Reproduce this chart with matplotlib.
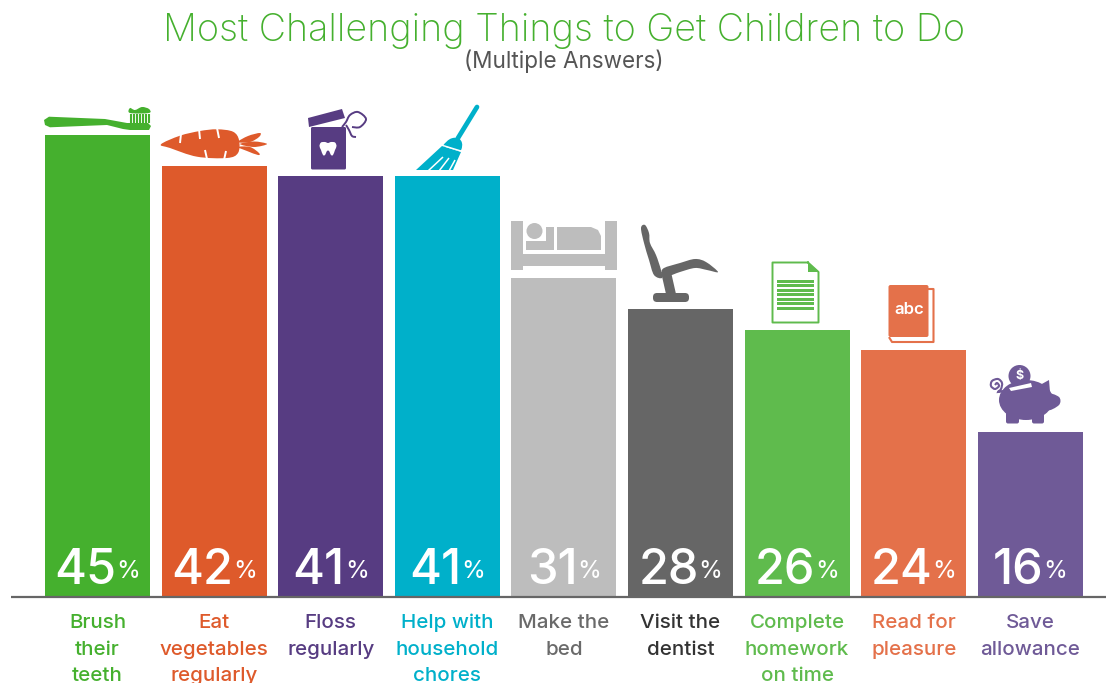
import numpy as np
import matplotlib
matplotlib.use('Agg')
import matplotlib.pyplot as plt
from matplotlib.path import Path
from matplotlib.patches import PathPatch, Polygon, Circle, Ellipse, Rectangle, FancyBboxPatch

plt.rcParams['font.family'] = ['Inter', 'DejaVu Sans']

categories = ['Brush\ntheir\nteeth', 'Eat\nvegetables\nregularly', 'Floss\nregularly',
              'Help with\nhousehold\nchores', 'Make the\nbed', 'Visit the\ndentist',
              'Complete\nhomework\non time', 'Read for\npleasure', 'Save\nallowance']
values = [45, 42, 41, 41, 31, 28, 26, 24, 16]
bar_colors = ['#45B02E', '#DE5A2B', '#573C82', '#00B0CA', '#BDBDBD', '#666666',
              '#5FBB4D', '#E4714A', '#6F5A97']
label_colors = ['#45B02E', '#DE5A2B', '#573C82', '#00B0CA', '#6A6A6A', '#333333',
                '#5FBB4D', '#E4714A', '#6F5A97']

W, H = 1106, 683
fig = plt.figure(figsize=(W / 100, H / 100), dpi=100)

# bars sit on a baseline at y=596.5px, one percent is about 10.26px
ax = fig.add_axes([0, (H - 596.5) / H, 1, 596.5 / H])
ax.set_xlim((0 - 97.5) / 116.6, (W - 97.5) / 116.6)
ax.set_ylim(0, 596.5 / 10.26)
ax.axis('off')
ax.bar(range(len(values)), values, width=0.9, color=bar_colors)

# pixel overlay for title, baseline and icons
px = fig.add_axes([0, 0, 1, 1], zorder=5)
px.set_xlim(0, W)
px.set_ylim(H, 0)
px.axis('off')
px.patch.set_alpha(0)

px.text(564, 31, 'Most Challenging Things to Get Children to Do', color='#45B02E', fontsize=27.2,
        fontweight='light', ha='center', va='center')
px.text(564, 61, '(Multiple Answers)', color='#555555', fontsize=16.2, fontweight='normal',
        ha='center', va='center')
px.plot([11, 1106], [597, 597], color='#666666', lw=1.6, solid_capstyle='butt')


def catmull(points, closed=True):
    p = np.array(points, dtype=float)
    n = len(p)
    verts = [p[0]]
    codes = [Path.MOVETO]
    for i in range(n if closed else n - 1):
        if closed:
            p0, p1, p2, p3 = p[i - 1], p[i], p[(i + 1) % n], p[(i + 2) % n]
        else:
            p0, p1, p2, p3 = p[max(i - 1, 0)], p[i], p[i + 1], p[min(i + 2, n - 1)]
        verts += [p1 + (p2 - p0) / 6, p2 - (p3 - p1) / 6, p2]
        codes += [Path.CURVE4] * 3
    return Path(verts, codes)


def smooth(points, color, zorder=3):
    px.add_patch(PathPatch(catmull(points), fc=color, ec='none', zorder=zorder))


def curve(points, color, lw=1.4, zorder=3):
    px.add_patch(PathPatch(catmull(points, closed=False), fc='none', ec=color, lw=lw, zorder=zorder))


def poly(points, color, zorder=3):
    px.add_patch(Polygon(points, closed=True, fc=color, ec='none', zorder=zorder))


def rbox(x0, y0, x1, y1, color, r=1.5, zorder=3):
    px.add_patch(FancyBboxPatch((x0 + r, y0 + r), x1 - x0 - 2 * r, y1 - y0 - 2 * r,
                                boxstyle=f'round,pad={r}', fc=color, ec='none', zorder=zorder))


def wline(xs, ys, color='white', lw=1.5, zorder=4):
    px.plot(xs, ys, color=color, lw=lw, solid_capstyle='butt', zorder=zorder)


def draw_toothbrush(c):
    poly([(49, 116.7), (105, 119), (127, 123), (148, 123), (151, 126), (149, 130), (130, 130),
          (123, 129), (107, 125), (50, 127.3), (45, 125), (44, 120)], c)
    for x in np.arange(130.5, 149, 3):
        wline([x + 0.6, x + 0.6], [113.5, 123], c, 1.5)
    smooth([(130, 113), (130, 108), (135, 110), (142, 107), (149, 109), (149, 113)], c)


def draw_carrot(c):
    smooth([(161, 144.3), (180, 135.7), (200, 131), (217, 129.3), (233, 131.7), (239, 140),
            (238, 153), (227, 158), (197, 156.7), (170, 148)], c)
    for x0, y0, x1, y1 in [(181, 134, 180, 143), (199, 129, 200, 139), (217, 128, 219, 138),
                           (207, 159, 205, 150), (224, 160, 226, 151)]:
        wline([x0, x1], [y0, y1], 'white', 1.4)
    smooth([(238, 142), (248, 136), (260, 133), (259, 137), (250, 142)], c)
    smooth([(240, 144), (254, 141.5), (267, 144), (254, 147)], c)
    smooth([(238, 147), (250, 147), (259, 153), (258, 155), (247, 151)], c)


def draw_floss(c):
    rbox(311, 127, 346, 169.5, c, 1.5)
    poly([(308, 118), (342, 109), (345, 118), (309, 127)], c)
    curve([(342, 127), (346, 122), (350, 115), (358, 112), (366, 119), (360, 127), (352, 127)], c)
    curve([(346, 125), (349, 130), (352, 136), (356, 137)], c)
    smooth([(319.5, 146), (321, 142.5), (325, 142), (328, 143), (331, 142), (335, 142.5), (336.5, 146),
            (335, 150), (333, 155), (331, 155), (329, 151), (327, 151), (325, 155), (323, 155),
            (321, 150)], 'white', 4)


def draw_broom(c):
    px.plot([477, 458], [107, 138], color=c, lw=3.4, solid_capstyle='round', zorder=3)
    smooth([(443, 146), (450, 139), (458, 138), (462, 143), (461, 150), (456, 150), (449, 147)], c)
    poly([(442, 146), (461, 152), (453, 170), (416, 170)], c)
    wline([443, 461], [145.5, 151], 'white', 1)
    for x0, y0, x1, y1 in [(443, 157, 428, 171), (449, 158, 439, 171), (455, 160, 449, 171)]:
        wline([x0, x1], [y0, y1], 'white', 1.1)


def draw_bed(c):
    px.add_patch(Rectangle((511, 221), 12, 49, fc=c, ec='none', zorder=3))
    px.add_patch(Rectangle((605, 221), 12, 49, fc=c, ec='none', zorder=3))
    px.add_patch(Rectangle((511, 254), 106, 12, fc=c, ec='none', zorder=3))
    px.add_patch(Circle((534.5, 231), 8, fc=c, ec='none', zorder=3))
    poly([(526, 241), (546, 241), (546, 227), (554, 227), (554, 250), (526, 250)], c)
    poly([(557, 227), (591, 227), (598, 230), (601, 236), (601, 250), (557, 250)], c)


def draw_chair(c):
    smooth([(641, 228), (645, 225), (649, 233), (650, 243), (656, 255), (661, 270), (662, 278),
            (654, 275), (649, 260), (644, 243)], c)
    smooth([(664, 268), (680, 263), (695, 259), (706, 262), (718, 272), (707, 270), (695, 268),
            (680, 272), (668, 276), (662, 273)], c)
    poly([(661, 272), (671, 272), (676, 294), (666, 294)], c)
    rbox(653, 293, 689, 302, c, 4)


def draw_document(c):
    poly([(772.5, 262.5), (808, 262.5), (818.5, 272), (818.5, 322.5), (772.5, 322.5)], 'white')
    px.plot([808, 772.5, 772.5, 818.5, 818.5, 808], [262.5, 262.5, 322.5, 322.5, 272, 262.5],
            color=c, lw=1.4, zorder=4)
    poly([(808, 262), (819, 272), (808, 272)], c, 4)
    for y in [281, 285.5, 290, 294.5, 299, 303.5, 308]:
        px.add_patch(Rectangle((777, y - 1.5), 37, 3, fc=c, ec='none', zorder=4))


def draw_book(c):
    px.plot([929, 933.5, 933.5, 892, 889.5], [289, 289, 342, 342, 338], color=c, lw=1.5, zorder=3)
    rbox(888.5, 285, 928.5, 337, c, 2)
    px.text(909, 309, 'abc', color='white', fontsize=12, fontweight='semibold', ha='center',
            va='center', zorder=4)


def draw_pig(c):
    px.add_patch(Ellipse((1026, 400), 54, 40, fc=c, ec='none', zorder=3))
    poly([(1040, 385), (1049, 380), (1050, 392)], c)
    smooth([(1047, 394), (1059, 397), (1059, 405), (1047, 410)], c)
    for x0, x1 in [(1006, 1019), (1032, 1044)]:
        rbox(x0, 410, x1, 423.5, c, 2)
    px.add_patch(Circle((1019.5, 376), 11, fc=c, ec='none', zorder=3))
    px.text(1019.5, 376, '$', color='white', fontsize=9, fontweight='bold', ha='center',
            va='center', zorder=5)
    poly([(1009, 388), (1031, 383), (1032, 387), (1011, 391)], 'white', 4)
    curve([(995, 385), (997, 383), (999, 386), (995, 389), (991, 386), (992, 381), (998, 379),
           (1002, 383), (1001, 389), (998, 392), (1003, 391)], c, 1.5)


draw_toothbrush(bar_colors[0])
draw_carrot(bar_colors[1])
draw_floss(bar_colors[2])
draw_broom(bar_colors[3])
draw_bed(bar_colors[4])
draw_chair(bar_colors[5])
draw_document(bar_colors[6])
draw_book(bar_colors[7])
draw_pig(bar_colors[8])

# value labels: number + small %, centred together in the bar
renderer = fig.canvas.get_renderer()
for i, v in enumerate(values):
    t1 = ax.annotate(str(v), xy=(i, 0), xytext=(0, 26), textcoords='offset pixels', color='white',
                     fontsize=35, fontweight='medium', ha='left', va='center')
    t2 = ax.annotate('%', xy=(i, 0), xytext=(0, 25), textcoords='offset pixels', color='white',
                     fontsize=17.5, ha='left', va='center')
    w1 = t1.get_window_extent(renderer).width
    w2 = t2.get_window_extent(renderer).width
    start = -(w1 + w2) / 2
    t1.set_position((start, 26))
    t2.set_position((start + w1, 25))

# category labels one line at a time, the last line runs off the figure edge as in the original
line_offsets = [-31.5, -58.5, -84.5]
for i, label in enumerate(categories):
    for line, dy in zip(label.split('\n'), line_offsets):
        ax.annotate(line, xy=(i, 0), xytext=(0, dy), textcoords='offset pixels', color=label_colors[i],
                    fontsize=14.8, fontweight='medium', ha='center', va='baseline', annotation_clip=False)

fig.savefig('out.png', dpi=100)
